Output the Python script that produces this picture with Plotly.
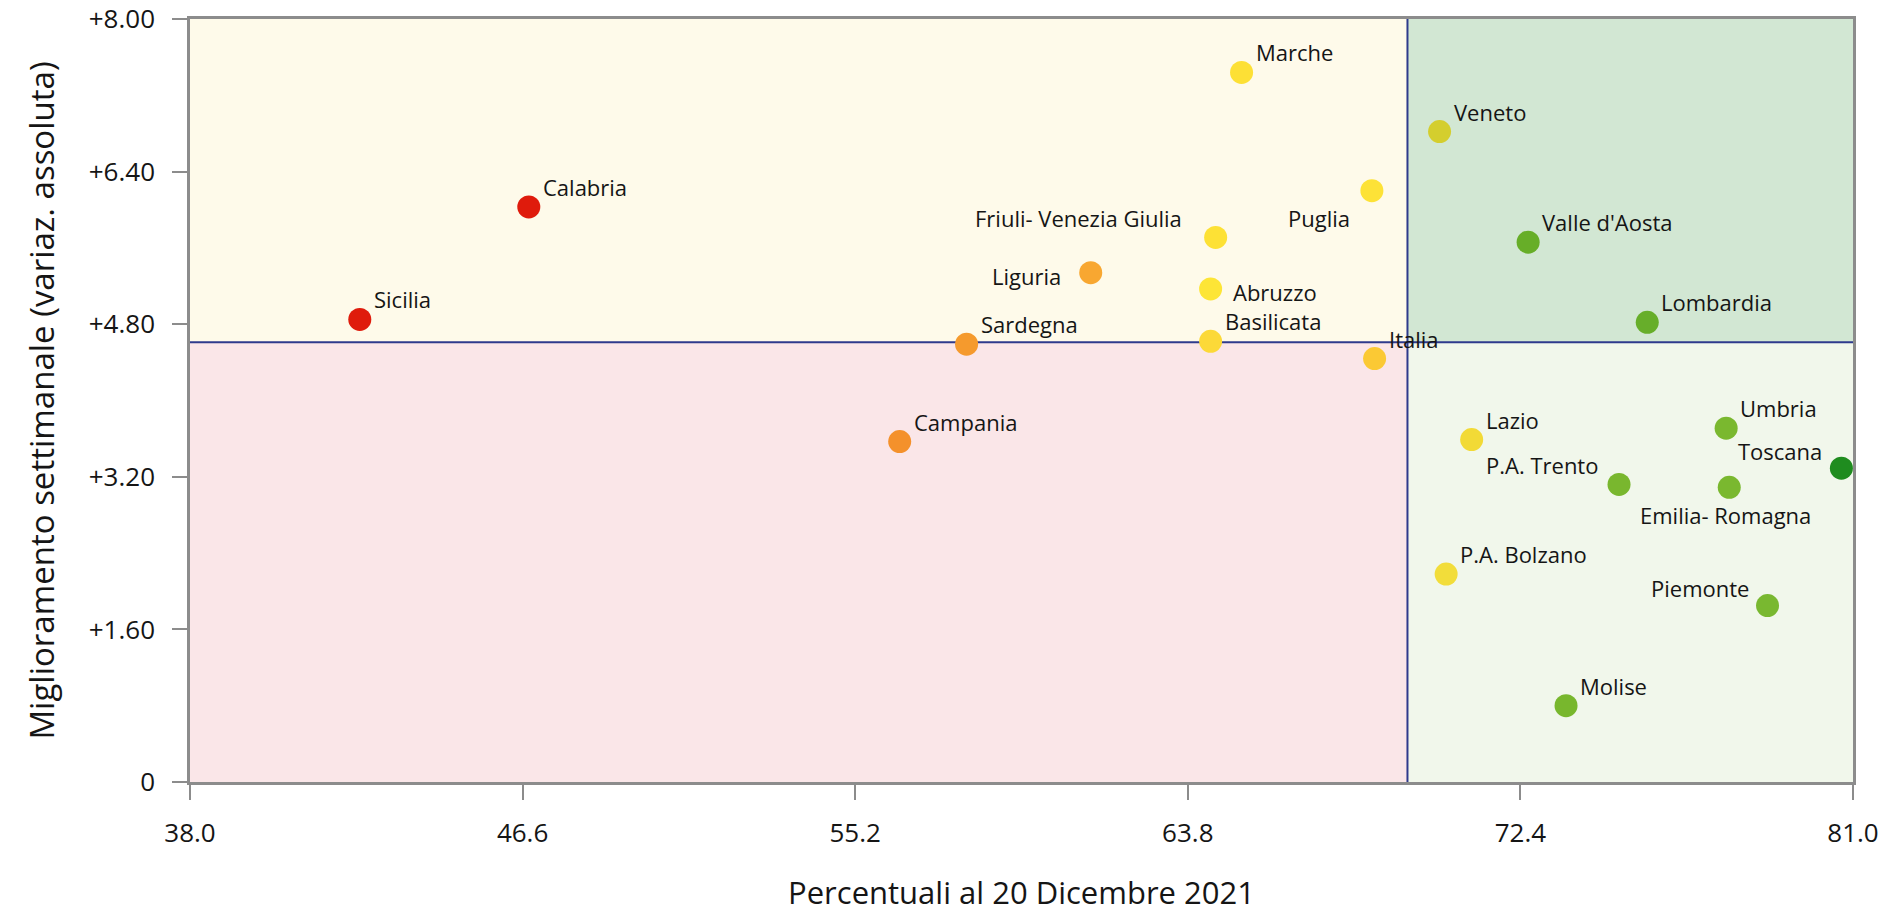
import plotly.graph_objects as go

# ---------------- data ----------------
regions = ["Sicilia", "Calabria", "Campania", "Sardegna", "Liguria",
           "Friuli- Venezia Giulia", "Abruzzo", "Basilicata", "Marche", "Puglia",
           "Italia", "Veneto", "P.A. Bolzano", "Lazio", "Valle d'Aosta",
           "P.A. Trento", "Molise", "Lombardia", "Umbria", "Emilia- Romagna",
           "Piemonte", "Toscana"]
percent_dec20 = [42.39, 46.76, 56.35, 58.08, 61.29,
                 64.52, 64.39, 64.39, 65.19, 68.56,
                 68.63, 70.31, 70.48, 71.14, 72.60,
                 74.95, 73.58, 75.68, 77.72, 77.80,
                 78.79, 80.70]
weekly_gain = [4.85, 6.03, 3.57, 4.59, 5.34,
               5.71, 5.17, 4.62, 7.44, 6.20,
               4.44, 6.82, 2.18, 3.59, 5.66,
               3.12, 0.80, 4.82, 3.71, 3.09,
               1.85, 3.29]
threshold_x = 69.48
threshold_y = 4.61
x_range = [38.0, 81.0]
y_range = [0.0, 8.0]
x_ticks = [38.0, 46.6, 55.2, 63.8, 72.4, 81.0]
x_tick_labels = ["38.0", "46.6", "55.2", "63.8", "72.4", "81.0"]
y_ticks = [0, 1.6, 3.2, 4.8, 6.4, 8.0]
y_tick_labels = ["0", "+1.60", "+3.20", "+4.80", "+6.40", "+8.00"]
x_title = "Percentuali al 20 Dicembre 2021"
y_title = "Miglioramento settimanale (variaz. assoluta)"

# ---------------- styles ----------------
marker_colors = ["#DF1B0C", "#DF1B0C", "#F4912B", "#F59A2D", "#F8A731",
                 "#FDE135", "#FDE536", "#FCD938", "#FDE035", "#FDE237",
                 "#FBC934", "#D4CE2E", "#F2DD3A", "#F2DA36", "#67AE28",
                 "#79B72E", "#78B72D", "#67AE2A", "#7AB82F", "#7AB82F",
                 "#79B830", "#1F8C1F"]
# label placement: (xanchor, xshift px, yshift px)
default_place = ("left", 12, 20)
special_place = {
    "Puglia": ("right", -20, -27),
    "Friuli- Venezia Giulia": ("right", -32, 19),
    "Liguria": ("right", -28, -3),
    "Abruzzo": ("left", 20, -3),
    "Toscana": ("right", -17, 17),
    "P.A. Trento": ("right", -19, 19),
    "Emilia- Romagna": ("center", -4, -28),
    "Piemonte": ("right", -17, 18),
}

FONT = "Open Sans, Noto Sans, DejaVu Sans, sans-serif"
TEXT_COLOR = "#151515"
AXIS_COLOR = "#8C8C8C"
DIVIDER_COLOR = "#2E3A8C"

fig = go.Figure()

# quadrant backgrounds
quadrants = [
    (x_range[0], threshold_x, threshold_y, y_range[1], "#FEFAEA"),
    (threshold_x, x_range[1], threshold_y, y_range[1], "#D2E7D3"),
    (x_range[0], threshold_x, y_range[0], threshold_y, "#FAE6E8"),
    (threshold_x, x_range[1], y_range[0], threshold_y, "#F1F7EB"),
]
for x0, x1, y0, y1, col in quadrants:
    fig.add_shape(type="rect", xref="x", yref="y", x0=x0, x1=x1, y0=y0, y1=y1,
                  fillcolor=col, line=dict(width=0), layer="below")

# divider lines
fig.add_shape(type="line", xref="x", yref="y", x0=threshold_x, x1=threshold_x,
              y0=y_range[0], y1=y_range[1], line=dict(color=DIVIDER_COLOR, width=2),
              layer="below")
fig.add_shape(type="line", xref="x", yref="y", x0=x_range[0], x1=x_range[1],
              y0=threshold_y, y1=threshold_y, line=dict(color=DIVIDER_COLOR, width=2),
              layer="below")

fig.add_trace(go.Scatter(
    x=percent_dec20, y=weekly_gain, mode="markers", text=regions,
    marker=dict(size=23, color=marker_colors, line=dict(width=0)),
    hoverinfo="text+x+y", showlegend=False, cliponaxis=False,
))

for name, xv, yv in zip(regions, percent_dec20, weekly_gain):
    anchor, xs, ys = special_place.get(name, default_place)
    fig.add_annotation(x=xv, y=yv, xref="x", yref="y", text=name, showarrow=False,
                       xanchor=anchor, yanchor="middle", xshift=xs, yshift=ys,
                       font=dict(family=FONT, size=22, color=TEXT_COLOR))

fig.update_layout(
    width=1885, height=913, autosize=False,
    margin=dict(l=190, r=32, t=19, b=131),
    paper_bgcolor="white", plot_bgcolor="white",
    font=dict(family=FONT, color=TEXT_COLOR),
    hovermode="closest",
)
fig.update_xaxes(
    range=x_range, tickvals=x_ticks, ticktext=x_tick_labels,
    showgrid=False, zeroline=False, automargin=False,
    showline=True, linecolor=AXIS_COLOR, linewidth=2.5, mirror=True,
    ticks="outside", ticklen=15, tickwidth=2, tickcolor=AXIS_COLOR,
    ticklabelstandoff=11,
    tickfont=dict(family=FONT, size=26, color=TEXT_COLOR),
    title=dict(text=x_title, font=dict(family=FONT, size=31, color=TEXT_COLOR), standoff=38),
)
fig.update_yaxes(
    range=y_range, tickvals=y_ticks, ticktext=y_tick_labels,
    showgrid=False, zeroline=False, automargin=False,
    showline=True, linecolor=AXIS_COLOR, linewidth=2.5, mirror=True,
    ticks="outside", ticklen=15, tickwidth=2, tickcolor=AXIS_COLOR,
    ticklabelstandoff=12,
    tickfont=dict(family=FONT, size=26, color=TEXT_COLOR),
    title=dict(text=y_title, font=dict(family=FONT, size=33, color=TEXT_COLOR), standoff=25),
)

fig.write_html("out.html", config={"displayModeBar": False},
               post_script="document.body.style.margin='0px';document.body.style.overflow='hidden';")
